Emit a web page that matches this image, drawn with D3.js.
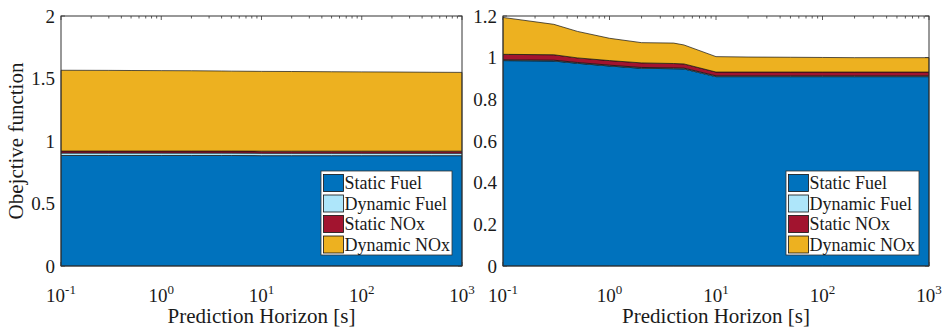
<!DOCTYPE html>
<html>
<head>
<meta charset="utf-8">
<script src="https://cdn.jsdelivr.net/npm/d3@7"></script>
<style>
  html, body { margin: 0; padding: 0; background: #fff; }
  svg { display: block; }
</style>
</head>
<body>
<svg id="chart" width="947" height="327"></svg>
<script>
// Prediction horizons (s) at which the objective was evaluated
const horizon = [0.1, 0.3, 0.5, 1, 2, 4, 5, 10, 20, 50, 100, 200, 500, 1000];

const seriesNames = ["Static Fuel", "Dynamic Fuel", "Static NOx", "Dynamic NOx"];
const seriesColors = ["#0072BD", "#AEE6FA", "#A2142F", "#EDB120"];

// Left panel: objective components
const leftStaticFuel  = [0.884, 0.884, 0.884, 0.884, 0.884, 0.884, 0.884, 0.883, 0.883, 0.883, 0.883, 0.883, 0.883, 0.883];
const leftDynamicFuel = [0.020, 0.020, 0.020, 0.020, 0.020, 0.020, 0.020, 0.020, 0.020, 0.020, 0.020, 0.020, 0.020, 0.020];
const leftStaticNOx   = [0.016, 0.016, 0.016, 0.016, 0.016, 0.016, 0.016, 0.016, 0.016, 0.016, 0.016, 0.016, 0.016, 0.016];
const leftDynamicNOx  = [0.646, 0.645, 0.644, 0.643, 0.642, 0.640, 0.639, 0.638, 0.637, 0.635, 0.634, 0.633, 0.631, 0.630];

// Right panel: objective components
const rightStaticFuel  = [0.986, 0.984, 0.973, 0.960, 0.949, 0.947, 0.946, 0.909, 0.909, 0.909, 0.909, 0.909, 0.909, 0.909];
const rightDynamicFuel = [0.004, 0.004, 0.004, 0.004, 0.004, 0.004, 0.004, 0.004, 0.004, 0.004, 0.004, 0.004, 0.004, 0.004];
const rightStaticNOx   = [0.026, 0.026, 0.022, 0.022, 0.022, 0.021, 0.020, 0.018, 0.018, 0.018, 0.018, 0.018, 0.018, 0.018];
const rightDynamicNOx  = [0.177, 0.146, 0.127, 0.107, 0.097, 0.098, 0.091, 0.074, 0.072, 0.071, 0.070, 0.069, 0.069, 0.069];

const xTickExponents = [-1, 0, 1, 2, 3];
const leftYTicks  = [0, 0.5, 1, 1.5, 2];
const rightYTicks = [0, 0.2, 0.4, 0.6, 0.8, 1, 1.2];

const yLabel = "Obejctive function";
const xLabel = "Prediction Horizon [s]";

const FONT = '"Liberation Serif"';
const svg = d3.select("#chart").style("font-family", FONT);
const axisColor = "#333";
const textColor = "#1a1a1a";

function drawPanel(cfg) {
  const { x0, x1, y0, y1, yMax, yTicks, series, showYLabel } = cfg;
  const g = svg.append("g").style("fill", textColor);

  const x = d3.scaleLog().domain([0.1, 1000]).range([x0, x1]);
  const y = d3.scaleLinear().domain([0, yMax]).range([y1, y0]);

  // Tick marks (drawn beneath the filled areas, pointing inward)
  const ticks = g.append("g").attr("stroke", axisColor).attr("stroke-width", 0.8);
  const major = xTickExponents.map(e => Math.pow(10, e));
  const minor = [];
  for (let e = -1; e < 3; e++) for (let m = 2; m <= 9; m++) minor.push(m * Math.pow(10, e));
  major.forEach(v => {
    ticks.append("line").attr("x1", x(v)).attr("x2", x(v)).attr("y1", y1).attr("y2", y1 - 4);
    ticks.append("line").attr("x1", x(v)).attr("x2", x(v)).attr("y1", y0).attr("y2", y0 + 4);
  });
  minor.forEach(v => {
    ticks.append("line").attr("x1", x(v)).attr("x2", x(v)).attr("y1", y1).attr("y2", y1 - 2.5);
    ticks.append("line").attr("x1", x(v)).attr("x2", x(v)).attr("y1", y0).attr("y2", y0 + 2.5);
  });
  yTicks.forEach(v => {
    ticks.append("line").attr("x1", x0).attr("x2", x0 + 4).attr("y1", y(v)).attr("y2", y(v));
    ticks.append("line").attr("x1", x1).attr("x2", x1 - 4).attr("y1", y(v)).attr("y2", y(v));
  });

  // Stacked areas
  const rows = horizon.map((h, i) => {
    const r = { h };
    seriesNames.forEach((n, k) => { r[n] = series[k][i]; });
    return r;
  });
  const stacked = d3.stack().keys(seriesNames)(rows);
  const area = d3.area()
    .x(d => x(d.data.h))
    .y0(d => y(d[0]))
    .y1(d => y(d[1]));
  g.append("g").selectAll("path").data(stacked).join("path")
    .attr("d", area)
    .style("fill", (d, i) => seriesColors[i])
    .attr("stroke", "#111")
    .attr("stroke-width", 0.7)
    .attr("stroke-linejoin", "round");

  // Box
  g.append("rect")
    .attr("x", x0).attr("y", y0)
    .attr("width", x1 - x0).attr("height", y1 - y0)
    .style("fill", "none").attr("stroke", axisColor).attr("stroke-width", 1);

  // Y tick labels
  g.append("g").selectAll("text").data(yTicks).join("text")
    .attr("x", x0 - 6).attr("y", d => y(d)).attr("dy", "0.35em")
    .attr("text-anchor", "end")
    .style("font-family", FONT).style("font-size", "19px")
    .text(d => d3.format("~g")(d));

  // X tick labels: 10^e
  const xl = g.append("g").selectAll("text").data(xTickExponents).join("text")
    .attr("x", d => x(Math.pow(10, d))).attr("y", 302)
    .attr("text-anchor", "middle")
    .style("font-family", FONT).style("font-size", "19px");
  xl.append("tspan").text("10");
  xl.append("tspan").attr("dy", -8).style("font-size", "13px").text(d => String(d));

  // Axis labels
  g.append("text")
    .attr("x", (x0 + x1) / 2).attr("y", 323)
    .attr("text-anchor", "middle")
    .style("font-family", FONT).style("font-size", "21px")
    .text(xLabel);
  if (showYLabel) {
    g.append("text")
      .attr("transform", `translate(23,${(y0 + y1) / 2}) rotate(-90)`)
      .attr("text-anchor", "middle")
      .style("font-family", FONT).style("font-size", "21px")
      .text(yLabel);
  }

  // Legend
  const lw = cfg.legendWidth, lh = 84;
  const lx = x1 - 10 - lw, ly = 171;
  const leg = g.append("g").attr("transform", `translate(${lx},${ly})`);
  leg.append("rect").attr("width", lw).attr("height", lh)
    .style("fill", "#fff").attr("stroke", "#333").attr("stroke-width", 0.8);
  seriesNames.forEach((n, i) => {
    const cy = 12 + i * 20.5;
    leg.append("rect").attr("x", 2.5).attr("y", cy - 8.5).attr("width", 20).attr("height", 17)
      .style("fill", seriesColors[i]).attr("stroke", "#111").attr("stroke-width", 0.8);
    leg.append("text").attr("x", 23.5).attr("y", cy).attr("dy", "0.35em")
      .style("font-family", FONT).style("font-size", "18px").text(n);
  });
}

drawPanel({
  x0: 61, x1: 462, y0: 16, y1: 266, yMax: 2, yTicks: leftYTicks,
  series: [leftStaticFuel, leftDynamicFuel, leftStaticNOx, leftDynamicNOx],
  showYLabel: true, legendWidth: 131
});
drawPanel({
  x0: 503, x1: 929, y0: 16, y1: 266, yMax: 1.2, yTicks: rightYTicks,
  series: [rightStaticFuel, rightDynamicFuel, rightStaticNOx, rightDynamicNOx],
  showYLabel: false, legendWidth: 133
});
</script>
</body>
</html>
